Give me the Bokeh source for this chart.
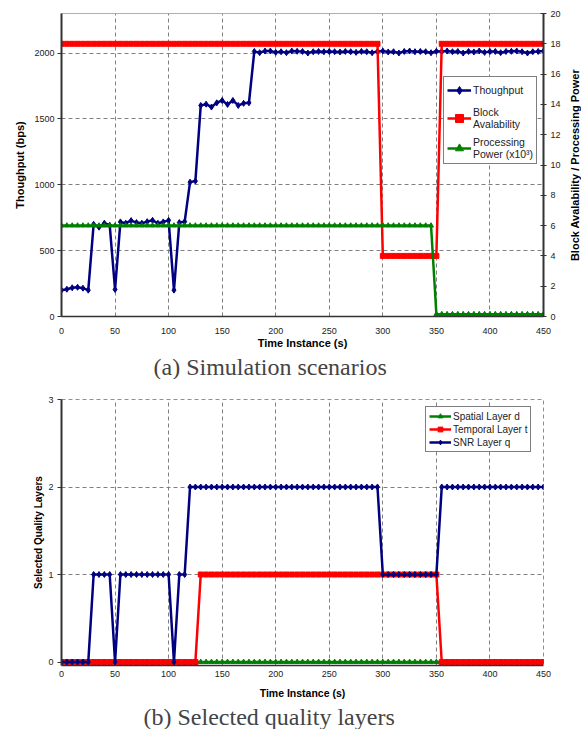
import math
from bokeh.plotting import figure
from bokeh.models import Range1d, LinearAxis, Legend, LegendItem, Title, FixedTicker, Label
from bokeh.layouts import column, row
from bokeh.embed import file_html
from bokeh.resources import INLINE

# ---------------- data ----------------
time_s = list(range(0, 455, 5))

throughput = [
    200, 207, 218, 222, 215, 200, 700, 678, 708, 693,      # 0-45
    205, 718, 708, 728, 713, 708, 720, 730, 708, 718,      # 50-95
    730, 200, 713, 720, 1020, 1028, 1602, 1612, 1590, 1622,  # 100-145
    1640, 1610, 1640, 1602, 1618, 1622, 2012, 2003, 2015, 2015,  # 150-195
    2005, 2010, 2003, 2015, 2013, 2012, 2000, 2010, 2012, 2010,  # 200-245
    2012, 2010, 2008, 2012, 2010, 2005, 2012, 2010, 2002, 2012,  # 250-295
    2015, 2008, 2010, 2000, 2012, 2015, 2010, 2012, 2010, 2002,  # 300-345
    2013, 2012, 2015, 2010, 2012, 2000, 2012, 2008, 2015, 2005,  # 350-395
    2012, 2012, 2003, 2012, 2013, 2015, 2010, 2000, 2010, 2012,  # 400-445
    2015,                                                   # 450
]

block_avail = [
    18, 18, 18, 18, 18, 18, 18, 18, 18, 18,
    18, 18, 18, 18, 18, 18, 18, 18, 18, 18,
    18, 18, 18, 18, 18, 18, 18, 18, 18, 18,
    18, 18, 18, 18, 18, 18, 18, 18, 18, 18,
    18, 18, 18, 18, 18, 18, 18, 18, 18, 18,
    18, 18, 18, 18, 18, 18, 18, 18, 18, 18,   # 0-295
    4, 4, 4, 4, 4, 4, 4, 4, 4, 4, 4,          # 300-350
    18, 18, 18, 18, 18, 18, 18, 18, 18, 18,
    18, 18, 18, 18, 18, 18, 18, 18, 18, 18,   # 355-450
]

proc_power = [
    6, 6, 6, 6, 6, 6, 6, 6, 6, 6,
    6, 6, 6, 6, 6, 6, 6, 6, 6, 6,
    6, 6, 6, 6, 6, 6, 6, 6, 6, 6,
    6, 6, 6, 6, 6, 6, 6, 6, 6, 6,
    6, 6, 6, 6, 6, 6, 6, 6, 6, 6,
    6, 6, 6, 6, 6, 6, 6, 6, 6, 6,
    6, 6, 6, 6, 6, 6, 6, 6, 6, 6,             # 0-345
    0.15, 0.15, 0.15, 0.15, 0.15, 0.15, 0.15, 0.15, 0.15, 0.15, 0.15,
    0.15, 0.15, 0.15, 0.15, 0.15, 0.15, 0.15, 0.15, 0.15, 0.15,  # 350-450
]

spatial = [
    0, 0, 0, 0, 0, 0, 0, 0, 0, 0,
    0, 0, 0, 0, 0, 0, 0, 0, 0, 0,
    0, 0, 0, 0, 0, 0, 0, 0, 0, 0,
    0, 0, 0, 0, 0, 0, 0, 0, 0, 0,
    0, 0, 0, 0, 0, 0, 0, 0, 0, 0,
    0, 0, 0, 0, 0, 0, 0, 0, 0, 0,
    0, 0, 0, 0, 0, 0, 0, 0, 0, 0,
    0, 0, 0, 0, 0, 0, 0, 0, 0, 0,
    0, 0, 0, 0, 0, 0, 0, 0, 0, 0,
    0,
]

temporal = [
    0, 0, 0, 0, 0, 0, 0, 0, 0, 0,
    0, 0, 0, 0, 0, 0, 0, 0, 0, 0,
    0, 0, 0, 0, 0, 0,                         # 0-125
    1, 1, 1, 1, 1, 1, 1, 1, 1, 1,
    1, 1, 1, 1, 1, 1, 1, 1, 1, 1,
    1, 1, 1, 1, 1, 1, 1, 1, 1, 1,
    1, 1, 1, 1, 1, 1, 1, 1, 1, 1,
    1, 1, 1, 1, 1,                            # 130-350
    0, 0, 0, 0, 0, 0, 0, 0, 0, 0,
    0, 0, 0, 0, 0, 0, 0, 0, 0, 0,             # 355-450
]

snr = [
    0, 0, 0, 0, 0, 0,                         # 0-25
    1, 1, 1, 1,                               # 30-45
    0,                                        # 50
    1, 1, 1, 1, 1, 1, 1, 1, 1, 1,             # 55-100
    0,                                        # 105
    1, 1,                                     # 110-115
    2, 2, 2, 2, 2, 2, 2, 2, 2, 2,
    2, 2, 2, 2, 2, 2, 2, 2, 2, 2,
    2, 2, 2, 2, 2, 2, 2, 2, 2, 2,
    2, 2, 2, 2, 2, 2,                         # 120-295
    1, 1, 1, 1, 1, 1, 1, 1, 1, 1, 1,          # 300-350
    2, 2, 2, 2, 2, 2, 2, 2, 2, 2,
    2, 2, 2, 2, 2, 2, 2, 2, 2, 2,             # 355-450
]

x_ticks = [0, 50, 100, 150, 200, 250, 300, 350, 400, 450]
top_left_ticks = [0, 500, 1000, 1500, 2000]
top_right_ticks = [0, 2, 4, 6, 8, 10, 12, 14, 16, 18, 20]
bottom_y_ticks = [0, 1, 2, 3]

NAVY = "#000080"
RED = "#FF0000"
GREEN = "#008000"
SANS = "Liberation Sans"
SERIF = "Liberation Serif"


def style_common(p):
    p.xgrid.grid_line_color = "#808080"
    p.xgrid.grid_line_dash = "4 3"
    p.ygrid.grid_line_color = "#808080"
    p.ygrid.grid_line_dash = "4 3"
    p.background_fill_color = "white"
    p.border_fill_color = "white"
    for ax in p.xaxis + p.yaxis:
        ax.major_label_text_font = SANS
        ax.major_label_text_font_size = "9px"
        ax.major_label_text_color = "#222222"
        ax.axis_label_text_font = SANS
        ax.axis_label_text_font_style = "bold"
        ax.axis_label_text_color = "black"
        ax.minor_tick_line_color = None
        ax.axis_line_color = "#333333"
        ax.major_tick_line_color = "#333333"


# ---------------- top figure ----------------
p1 = figure(frame_width=482, frame_height=303, output_backend="svg", toolbar_location=None,
            x_range=Range1d(0, 450), y_range=Range1d(0, 2300),
            min_border_left=61, min_border_right=24, min_border_top=13, min_border_bottom=0)
p1.extra_y_ranges = {"right": Range1d(0, 20)}
right_ax = LinearAxis(y_range_name="right", ticker=FixedTicker(ticks=top_right_ticks))
p1.add_layout(right_ax, "right")

r_tl = p1.line(time_s, throughput, color=NAVY, line_width=2.5)
r_tm = p1.scatter(time_s, throughput, marker="diamond", size=6, color=NAVY)
r_bl = p1.line(time_s, block_avail, color=RED, line_width=2.5, y_range_name="right")
r_bm = p1.scatter(time_s, block_avail, marker="square", size=5, color=RED, y_range_name="right")
r_pl = p1.line(time_s, proc_power, color=GREEN, line_width=2.5, y_range_name="right")
r_pm = p1.scatter(time_s, proc_power, marker="triangle", size=5, color=GREEN, y_range_name="right")

p1.xaxis.ticker = FixedTicker(ticks=x_ticks)
p1.yaxis[0].ticker = FixedTicker(ticks=top_left_ticks)
style_common(p1)
p1.xaxis.axis_label = "Time Instance (s)"
p1.yaxis[0].axis_label = "Thoughput (bps)"
for ax in p1.yaxis + p1.xaxis:
    ax.axis_label_text_font_size = "11px"
p1.xaxis.major_tick_out = 0
p1.xaxis.major_tick_in = 0
p1.xaxis.major_label_standoff = 11
p1.xaxis.axis_label_standoff = 0
p1.xaxis.axis_line_width = 1.5
p1.yaxis[0].axis_line_width = 2
p1.yaxis[0].major_tick_out = 4
p1.yaxis[0].major_tick_in = 0
p1.yaxis[0].major_label_standoff = 3
p1.yaxis[0].axis_label_standoff = 5
right_ax.axis_line_width = 2
right_ax.major_tick_in = 3
right_ax.major_tick_out = 3
right_ax.major_label_standoff = 4
p1.outline_line_color = "#b0b0b0"
p1.outline_line_width = 1

leg1 = Legend(items=[
    LegendItem(label="Thoughput", renderers=[r_tl, r_tm]),
    LegendItem(label="Block\nAvalability", renderers=[r_bl, r_bm]),
    LegendItem(label="Processing\nPower (x10\u00b3)", renderers=[r_pl, r_pm]),
], location=(382, 152))
leg1.border_line_color = "black"
leg1.border_line_width = 1
leg1.background_fill_alpha = 1
leg1.label_text_font = SANS
leg1.label_text_font_size = "10.5px"
leg1.label_text_color = "#222222"
leg1.glyph_width = 24
leg1.label_height = 12
leg1.spacing = 6
leg1.padding = 3
leg1.margin = 0
leg1.label_standoff = 2
p1.add_layout(leg1)

p1.add_layout(Title(text="(a)  Simulation scenarios", align="left", offset=92, text_font=SERIF,
                    text_font_size="24px", text_font_style="normal", standoff=0), "below")

# narrow side panel holding the right-hand axis title (reads bottom to top)
side = figure(frame_width=14, frame_height=303, output_backend="svg", toolbar_location=None,
              x_range=Range1d(0, 1), y_range=Range1d(0, 1), x_axis_type=None, y_axis_type=None,
              min_border_left=0, min_border_right=0, min_border_top=13, min_border_bottom=0)
side.grid.visible = False
side.outline_line_color = None
side.background_fill_color = "white"
side.border_fill_color = "white"
side.add_layout(Label(x=0.5, y=0.5, text="Block Avalability / Processing Power", angle=math.pi / 2,
                      text_align="center", text_baseline="middle", text_font=SANS,
                      text_font_size="11px", text_font_style="bold", text_color="black"))

# ---------------- bottom figure ----------------
p2 = figure(frame_width=482, frame_height=266, output_backend="svg", toolbar_location=None,
            x_range=Range1d(0, 450), y_range=Range1d(-0.04, 3),
            min_border_left=61, min_border_right=40, min_border_top=20, min_border_bottom=0)
s_l = p2.line(time_s, spatial, color=GREEN, line_width=2.5)
s_m = p2.scatter(time_s, spatial, marker="triangle", size=5, color=GREEN)
t_l = p2.line(time_s, temporal, color=RED, line_width=2.5)
t_m = p2.scatter(time_s, temporal, marker="square", size=5, color=RED)
q_l = p2.line(time_s, snr, color=NAVY, line_width=2.5)
q_m = p2.scatter(time_s, snr, marker="diamond", size=6, color=NAVY)

p2.xaxis.ticker = FixedTicker(ticks=x_ticks)
p2.yaxis.ticker = FixedTicker(ticks=bottom_y_ticks)
style_common(p2)
p2.xaxis.axis_label = "Time Instance (s)"
p2.yaxis.axis_label = "Selected Quality Layers"
p2.xaxis.axis_label_text_font_size = "10.5px"
p2.yaxis.axis_label_text_font_size = "10px"
p2.xaxis.major_tick_out = 0
p2.xaxis.major_tick_in = 0
p2.xaxis.major_label_standoff = 5
p2.xaxis.axis_label_standoff = 7
p2.xaxis.axis_line_width = 1.5
p2.yaxis.axis_line_width = 2
p2.yaxis.major_tick_out = 4
p2.yaxis.major_tick_in = 0
p2.yaxis.major_label_standoff = 4
p2.yaxis.axis_label_standoff = 1
p2.outline_line_color = "#909090"
p2.outline_line_dash = "4 3"
p2.outline_line_width = 1

leg2 = Legend(items=[
    LegendItem(label="Spatial Layer d", renderers=[s_l, s_m]),
    LegendItem(label="Temporal Layer t", renderers=[t_l, t_m]),
    LegendItem(label="SNR Layer q", renderers=[q_l, q_m]),
], location=(364, 213))
leg2.border_line_color = "black"
leg2.border_line_width = 1
leg2.label_text_font = SANS
leg2.label_text_font_size = "10px"
leg2.label_text_color = "#222222"
leg2.glyph_width = 22
leg2.glyph_height = 12
leg2.label_height = 12
leg2.spacing = 1
leg2.padding = 3
leg2.margin = 0
leg2.label_standoff = 2
p2.add_layout(leg2)

p2.add_layout(Title(text="(b)  Selected quality layers", align="left", offset=82, text_font=SERIF,
                    text_font_size="24px", text_font_style="normal", standoff=0), "below")

layout = column(row(p1, side), p2)
open("out.html", "w").write(file_html(layout, INLINE))
